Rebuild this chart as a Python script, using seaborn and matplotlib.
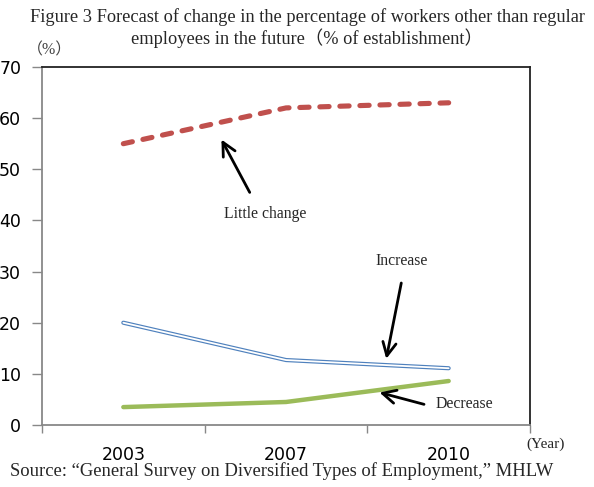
import matplotlib
matplotlib.use("Agg")
import matplotlib.pyplot as plt
import seaborn as sns
import pandas as pd

years = ["2003", "2007", "2010"]
little_change = [55.0, 62.0, 63.0]
increase = [20.0, 12.7, 11.1]
decrease = [3.5, 4.5, 8.6]
y_ticks = [0, 10, 20, 30, 40, 50, 60, 70]

title_1 = "Figure 3 Forecast of change in the percentage of workers other than regular"
title_2 = "employees in the future\uff08% of establishment\uff09"
source = "Source: \u201cGeneral Survey on Diversified Types of Employment,\u201d MHLW"

sns.set_theme(style="white")
plt.rcParams["font.family"] = ["DejaVu Sans"]
serif = ["Liberation Serif", "Noto Sans CJK JP", "DejaVu Serif"]

df = pd.DataFrame({"year": years, "little": little_change,
                   "increase": increase, "decrease": decrease})

fig = plt.figure(figsize=(5.94, 4.87), dpi=100)
ax = fig.add_axes([42 / 594, 62 / 487, 488 / 594, 358 / 487])

sns.lineplot(data=df, x="year", y="little", ax=ax, color="#c0504d",
             lw=3.7, linestyle=(0, (1.8, 2.1)), dash_capstyle="round")
sns.lineplot(data=df, x="year", y="increase", ax=ax, color="#4f81bd", lw=3.0)
sns.lineplot(data=df, x="year", y="increase", ax=ax, color="white", lw=1.3)
sns.lineplot(data=df, x="year", y="decrease", ax=ax, color="#9bbb59", lw=3.2)

ax.set_xlim(-0.5, 2.5)
ax.set_ylim(0, 70)
ax.set_yticks(y_ticks)
ax.set_xlabel("")
ax.set_ylabel("")
ax.set_xticks([-0.5, 0.5, 1.5, 2.5], minor=True)
ax.tick_params(axis="x", which="major", length=0, pad=15, labelsize=12.5,
               colors="black")
ax.tick_params(axis="x", which="minor", bottom=True, length=6, width=1,
               color="#888888", direction="out")
ax.tick_params(axis="y", left=True, length=7, width=1, color="#888888",
               direction="out", pad=8, labelsize=12.5, labelcolor="black")

for side in ["left", "bottom"]:
    ax.spines[side].set_color("#888888")
    ax.spines[side].set_linewidth(1.3)
for side in ["top", "right"]:
    ax.spines[side].set_color("#222222")
    ax.spines[side].set_linewidth(1.3)

arrow = dict(arrowstyle="->", color="black", lw=2, mutation_scale=24)
ax.annotate("", xy=(0.595, 56.3), xytext=(0.785, 45.0), arrowprops=arrow)
ax.text(0.87, 41.3, "Little change", ha="center", va="center",
        family=serif, fontsize=11.3)
ax.annotate("", xy=(1.613, 12.4), xytext=(1.712, 28.3), arrowprops=arrow)
ax.text(1.712, 32.1, "Increase", ha="center", va="center",
        family=serif, fontsize=11.3)
ax.annotate("", xy=(1.558, 6.5), xytext=(1.865, 3.9), arrowprops=arrow)
ax.text(1.92, 4.1, "Decrease", ha="left", va="center",
        family=serif, fontsize=11.3)

fig.text(30 / 594, 1 - 17 / 487, title_1, ha="left", va="center",
         family=serif, fontsize=13.2)
fig.text(307 / 594, 1 - 38 / 487, title_2, ha="center", va="center",
         family=serif, fontsize=13.2)
fig.text(50 / 594, 1 - 50 / 487, "\uff08%\uff09", ha="center", va="center",
         family=serif, fontsize=11.5, color="#444444")
fig.text(546 / 594, 1 - 444 / 487, "(Year)", ha="center", va="center",
         family=serif, fontsize=11)
fig.text(10 / 594, 1 - 471 / 487, source, ha="left", va="center",
         family=serif, fontsize=13.4)

fig.savefig("out.png", dpi=100)
